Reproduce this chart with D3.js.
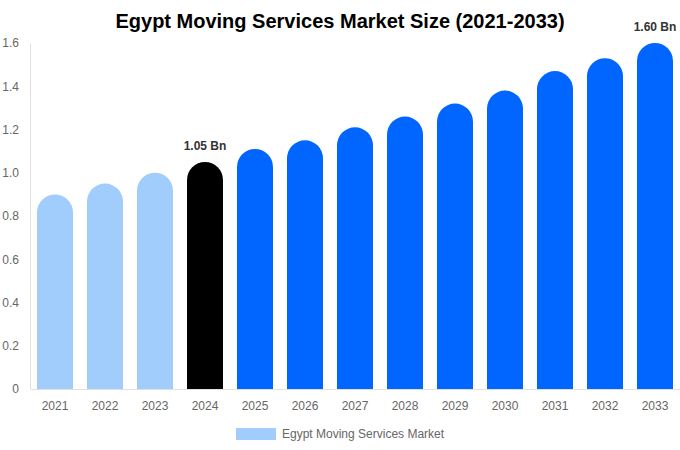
<!DOCTYPE html>
<html>
<head>
<meta charset="utf-8">
<script src="https://cdn.jsdelivr.net/npm/d3@7"></script>
<style>
  body { margin: 0; background: #fff; font-family: "Liberation Sans", Arial, sans-serif; }
</style>
</head>
<body>
<svg id="chart" width="680" height="450"></svg>
<script>
// data
const years = ["2021", "2022", "2023", "2024", "2025", "2026", "2027", "2028", "2029", "2030", "2031", "2032", "2033"];
const values = [0.90, 0.95, 1.00, 1.05, 1.11, 1.15, 1.21, 1.26, 1.32, 1.38, 1.47, 1.53, 1.60];
const yTicks = [0, 0.2, 0.4, 0.6, 0.8, 1.0, 1.2, 1.4, 1.6];
const labelled = { "2024": "1.05 Bn", "2033": "1.60 Bn" };
const seriesName = "Egypt Moving Services Market";

const margin = { top: 43, right: 0, bottom: 61, left: 30 };
const width = 680 - margin.left - margin.right,
      height = 450 - margin.top - margin.bottom;

const svg = d3.select("#chart");

// Title
svg.append("text")
  .attr("x", 340).attr("y", 28)
  .attr("text-anchor", "middle")
  .attr("font-size", 20).attr("font-weight", "bold")
  .attr("fill", "#000")
  .text("Egypt Moving Services Market Size (2021-2033)");

const g = svg.append("g")
  .attr("transform", "translate(" + margin.left + "," + margin.top + ")");

const x = d3.scaleBand().domain(years).range([0, width])
  .paddingInner(0.28).paddingOuter(0.14);
const y = d3.scaleLinear().domain([0, 1.6]).range([height, 0]);

function barColor(yr) {
  if (+yr < 2024) return "#a0cdfc";
  if (+yr === 2024) return "#000000";
  return "#0066ff";
}

// bars with rounded top
g.selectAll("path.bar")
  .data(years.map((yr, i) => ({ yr: yr, v: values[i] })))
  .enter().append("path")
  .attr("class", "bar")
  .attr("fill", d => barColor(d.yr))
  .attr("d", d => {
    const x0 = x(d.yr), w = x.bandwidth(), r = w / 2;
    const top = y(d.v), bottom = y(0);
    return "M" + x0 + "," + bottom +
      "L" + x0 + "," + (top + r) +
      "A" + r + "," + r + " 0 0 1 " + (x0 + w) + "," + (top + r) +
      "L" + (x0 + w) + "," + bottom + "Z";
  });

// value labels
g.selectAll("text.val")
  .data(years.filter(yr => labelled[yr]))
  .enter().append("text")
  .attr("class", "val")
  .attr("x", yr => x(yr) + x.bandwidth() / 2)
  .attr("y", yr => y(values[years.indexOf(yr)]) - 12)
  .attr("text-anchor", "middle")
  .attr("font-size", 12).attr("font-weight", "bold")
  .attr("fill", "#333")
  .text(yr => labelled[yr]);

// Y axis
const yAxis = g.append("g")
  .call(d3.axisLeft(y).tickValues(yTicks).tickSize(0).tickPadding(11)
    .tickFormat(d => d === 0 ? "0" : d3.format(".1f")(d)));
yAxis.select(".domain").attr("stroke", "#e0e0e0");
yAxis.selectAll("text").attr("font-size", 12).attr("fill", "#666")
  .attr("font-family", "\"Liberation Sans\", Arial, sans-serif");

// X axis
const xAxis = g.append("g")
  .attr("transform", "translate(0," + height + ")")
  .call(d3.axisBottom(x).tickSize(0).tickPadding(12));
xAxis.select(".domain").attr("stroke", "#e0e0e0");
xAxis.selectAll("text").attr("font-size", 12).attr("fill", "#666")
  .attr("font-family", "\"Liberation Sans\", Arial, sans-serif");

// Legend
svg.append("rect")
  .attr("x", 236).attr("y", 428).attr("width", 40).attr("height", 12)
  .attr("fill", "#a0cdfc");
svg.append("text")
  .attr("x", 282).attr("y", 438)
  .attr("font-size", 12).attr("fill", "#666")
  .text(seriesName);
</script>
</body>
</html>
